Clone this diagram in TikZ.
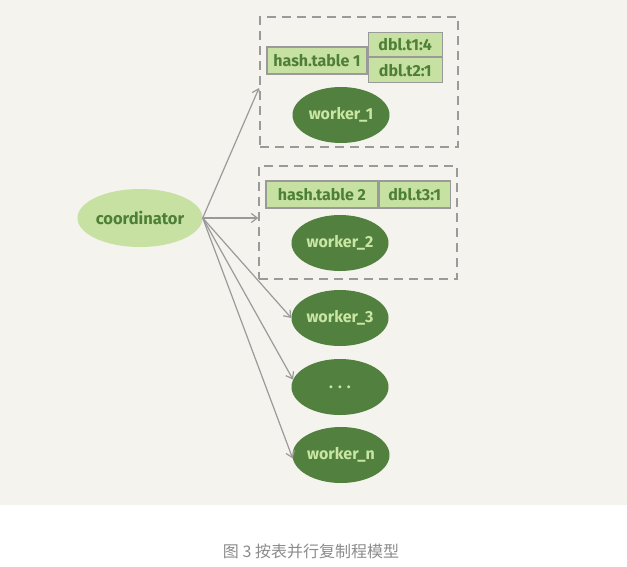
\documentclass[tikz,border=0pt]{standalone}
\usepackage{fontspec}
\setmainfont{Fira Sans}
\newfontfamily\cjk{Noto Sans CJK SC}
\usetikzlibrary{shapes.geometric,arrows.meta}
\definecolor{bgpanel}{HTML}{F4F3EE}
\definecolor{darkg}{HTML}{52803F}
\definecolor{lightg}{HTML}{C6E1A1}
\definecolor{textdark}{HTML}{4E7F37}
\definecolor{textlight}{HTML}{C9E6A3}
\definecolor{linegray}{HTML}{9A9A9A}
\definecolor{capgray}{HTML}{8C8C8C}
\tikzset{
  coordnode/.style={ellipse, fill=lightg, minimum width=124pt, minimum height=58pt, inner sep=0pt,
    text=textdark, font=\fontsize{16.5}{18}\selectfont\bfseries},
  worker/.style={ellipse, fill=darkg, minimum width=97pt, minimum height=56pt, inner sep=0pt,
    text=textlight, font=\fontsize{16}{18}\selectfont\bfseries},
  dashbox/.style={draw=linegray, line width=1.4pt, dash pattern=on 9pt off 6pt, inner sep=0pt},
  cell/.style={draw=linegray, line width=1.2pt, fill=lightg, inner sep=0pt, text=textdark,
    font=\fontsize{16}{18}\selectfont\bfseries},
  arr/.style={draw=linegray, line width=1.2pt, -{Straight Barb[length=6pt,width=9pt]}}
}
\begin{document}
\begin{tikzpicture}[x=1pt,y=-1pt]
\useasboundingbox (0,0) rectangle (627,566);
\fill[white] (0,0) rectangle (627,566);
\fill[bgpanel] (0,0) rectangle (627,505);

% dashed group boxes
\node[dashbox, minimum width=198pt, minimum height=130pt] (box1) at (359,82) {};
\node[dashbox, minimum width=198pt, minimum height=113pt] (box2) at (358,222.5) {};

% hash tables
\node[cell, minimum width=100pt, minimum height=27pt] (h1) at (317,60.5) {hash.table 1};
\node[cell, minimum width=74pt, minimum height=24pt, anchor=south west] (d11) at (h1.east |- 0,57) {dbl.t1:4};
\node[cell, minimum width=74pt, minimum height=25pt, anchor=north west] (d12) at (h1.east |- 0,57) {dbl.t2:1};

\node[cell, minimum width=112pt, minimum height=27pt] (h2) at (322,194.5) {hash.table 2};
\node[cell, minimum width=71pt, minimum height=27pt, anchor=west] (d2) at (h2.east) {dbl.t3:1};

% nodes
\node[coordnode] (coord) at (140,218) {coordinator};
\node[worker] (w1) at (341,115) {worker\_1};
\node[worker] (w2) at (340,243) {worker\_2};
\node[worker] (w3) at (340,318) {worker\_3};
\node[worker] (dots) at (340,387) {. . .};
\node[worker] (wn) at (341,455) {worker\_n};

% connectors
\coordinate (t1) at (259,88);
\draw[arr] (coord.east) -- (t1);
\draw[arr] (coord.east) -- (coord.east -| box2.west);
\draw[arr] (coord.east) -- (w3.west);
\draw[arr] (coord.east) -- (dots.171);
\draw[arr] (coord.east) -- (wn.184);

% caption
\node[text=capgray, font=\cjk\fontsize{16}{18}\selectfont] (cap) at (311,551) {图 3 按表并行复制程模型};
\end{tikzpicture}
\end{document}
